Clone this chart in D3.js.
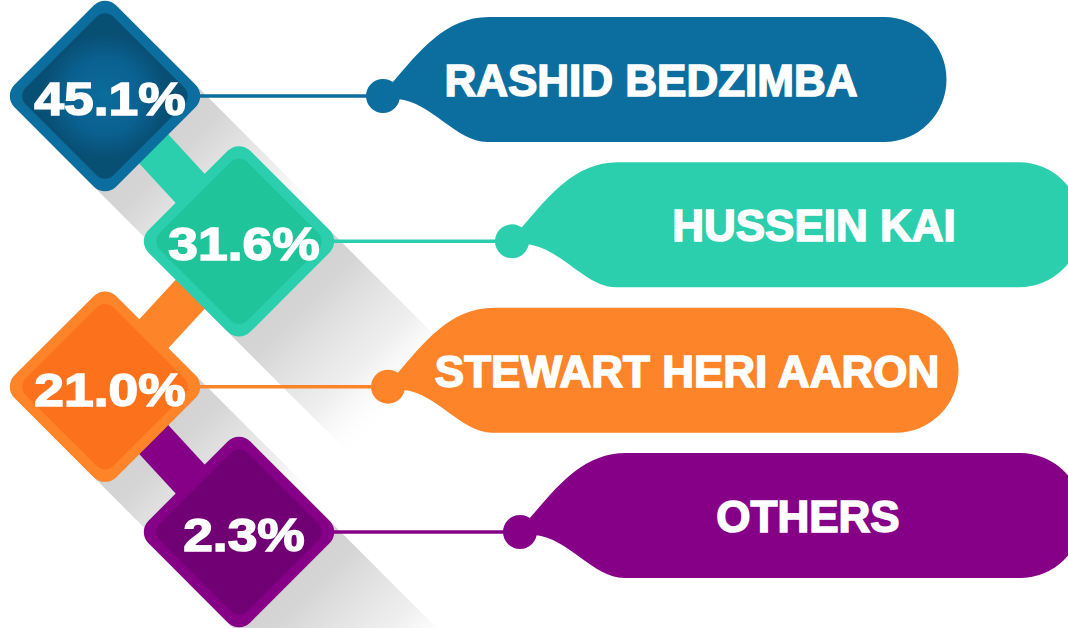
<!DOCTYPE html>
<html>
<head>
<meta charset="utf-8">
<script src="https://cdn.jsdelivr.net/npm/d3@7"></script>
<style>
body { margin: 0; background: #fff; }
svg { display: block; }
</style>
</head>
<body>
<div id="vis"></div>
<script>
// data
var names = ["RASHID BEDZIMBA", "HUSSEIN KAI", "STEWART HERI AARON", "OTHERS"];
var shares = [45.1, 31.6, 21.0, 2.3];
var outerColours = ["#0b6e9e", "#2bcfae", "#fd8428", "#850087"];
var innerColours = ["#0a5f8a", "#1fc49b", "#fc721c", "#710074"];

var width = 1068;
var height = 628;

var svg = d3.select("#vis")
    .append("svg")
    .attr("width", width)
    .attr("height", height);
var defs = svg.append("defs");

// rows down the page, diamonds zig-zag left / right
var y = d3.scalePoint().domain(names).range([96, 532]);
var diamondX = d3.scaleOrdinal().domain(names).range([105, 239]);
var knobX = d3.scaleOrdinal().domain(names).range([383, 512, 388, 520]);
var tipX = d3.scaleOrdinal().domain(names).range([884, 1019, 896, 1020]);
var labelX = d3.scaleOrdinal().domain(names).range([651, 814, 687, 808]);
var outer = d3.scaleOrdinal().domain(names).range(outerColours);
var inner = d3.scaleOrdinal().domain(names).range(innerColours);

var side = 144;                  // diamond square side
var half = side / Math.SQRT2;    // half diagonal
var reach = 95;                  // visible tip (rounded corner)
var L = 165;                     // shadow length

var rows = names.map(function(n, i) {
  return { name: n, share: shares[i], i: i, cx: diamondX(n), cy: y(n) };
});

// long shadows
rows.forEach(function(d) {
  var g = defs.append("linearGradient")
    .attr("id", "sh" + d.i)
    .attr("gradientUnits", "userSpaceOnUse")
    .attr("x1", d.cx).attr("y1", d.cy)
    .attr("x2", d.cx + L).attr("y2", d.cy + L);
  g.append("stop").attr("offset", 0).attr("stop-color", "#cdcdcd").attr("stop-opacity", 1);
  g.append("stop").attr("offset", 0.4).attr("stop-color", "#d3d3d3").attr("stop-opacity", 0.95);
  g.append("stop").attr("offset", 0.75).attr("stop-color", "#e4e4e4").attr("stop-opacity", 0.6);
  g.append("stop").attr("offset", 1).attr("stop-color", "#ffffff").attr("stop-opacity", 0);
});

svg.append("g").selectAll("polygon")
  .data(rows)
  .enter().append("polygon")
  .attr("points", function(d) {
    var a = [d.cx + half / 2, d.cy - half / 2];
    var b = [d.cx - half / 2, d.cy + half / 2];
    return [a, [a[0] + L, a[1] + L], [b[0] + L, b[1] + L], b]
      .map(function(p) { return p.join(","); }).join(" ");
  })
  .attr("fill", function(d) { return "url(#sh" + d.i + ")"; });

// connectors between diamonds, coloured like the lower one
svg.append("g").selectAll("line")
  .data(rows.slice(1))
  .enter().append("line")
  .attr("x1", function(d) { return rows[d.i - 1].cx; })
  .attr("y1", function(d) { return rows[d.i - 1].cy; })
  .attr("x2", function(d) { return d.cx; })
  .attr("y2", function(d) { return d.cy; })
  .attr("stroke", function(d) { return outer(d.name); })
  .attr("stroke-width", 41);

// leader lines
svg.append("g").selectAll("line")
  .data(rows)
  .enter().append("line")
  .attr("x1", function(d) { return d.cx + reach - 4; })
  .attr("x2", function(d) { return knobX(d.name); })
  .attr("y1", function(d) { return d.cy; })
  .attr("y2", function(d) { return d.cy; })
  .attr("stroke", function(d) { return outer(d.name); })
  .attr("stroke-width", 3.5);

// radial shading for the blue diamond
var rg = defs.append("radialGradient").attr("id", "blueIn");
rg.append("stop").attr("offset", 0).attr("stop-color", "#0b6c9c");
rg.append("stop").attr("offset", 0.6).attr("stop-color", "#0a6190");
rg.append("stop").attr("offset", 1).attr("stop-color", "#084f74");

// diamonds
var dia = svg.append("g").selectAll("g")
  .data(rows)
  .enter().append("g")
  .attr("transform", function(d) { return "translate(" + d.cx + "," + d.cy + ") rotate(45)"; });

dia.append("rect")
  .attr("x", -side / 2).attr("y", -side / 2)
  .attr("width", side).attr("height", side)
  .attr("rx", 16)
  .attr("fill", function(d) { return outer(d.name); });

dia.append("rect")
  .attr("x", -side / 2 + 10).attr("y", -side / 2 + 10)
  .attr("width", side - 20).attr("height", side - 20)
  .attr("rx", 12)
  .attr("fill", function(d) { return d.i === 0 ? "url(#blueIn)" : inner(d.name); });

// percentages
var fmt = d3.format(".1f");
svg.append("g").selectAll("text")
  .data(rows)
  .enter().append("text")
  .attr("x", function(d) { return d.cx + 5; })
  .attr("y", function(d) { return d.cy + 19; })
  .attr("text-anchor", "middle")
  .style("font-family", "'Liberation Sans', Arial, sans-serif")
  .style("font-weight", "bold")
  .style("font-size", "46px")
  .attr("fill", "#fff")
  .attr("stroke", "#fff")
  .attr("stroke-width", 1.5)
  .text(function(d) { return fmt(d.share) + "%"; })
  .each(function() {
    var len = this.getComputedTextLength();
    d3.select(this).attr("textLength", len * 1.16).attr("lengthAdjust", "spacingAndGlyphs");
  });

// name tags
function tag(d) {
  var cx = knobX(d.name), cy = d.cy, rx = tipX(d.name);
  var T = cy - 79, B = cy + 46, r = (B - T) / 2;
  var p = d3.path();
  p.moveTo(cx + 9, cy - 13);
  p.bezierCurveTo(cx + 36, cy - 44, cx + 62, T, cx + 106, T);
  p.lineTo(rx, T);
  p.arc(rx, T + r, r, -Math.PI / 2, Math.PI / 2);
  p.lineTo(cx + 104, B);
  p.bezierCurveTo(cx + 74, B, cx + 48, cy + 6, cx + 15, cy + 3);
  p.closePath();
  return p.toString();
}

var tags = svg.append("g").selectAll("g")
  .data(rows)
  .enter().append("g");

tags.append("path")
  .attr("d", tag)
  .attr("fill", function(d) { return outer(d.name); });

tags.append("circle")
  .attr("cx", function(d) { return knobX(d.name); })
  .attr("cy", function(d) { return d.cy; })
  .attr("r", 17)
  .attr("fill", function(d) { return outer(d.name); });

tags.append("text")
  .attr("x", function(d) { return labelX(d.name); })
  .attr("y", function(d) { return d.cy; })
  .attr("text-anchor", "middle")
  .style("font-family", "'Liberation Sans', Arial, sans-serif")
  .style("font-weight", "bold")
  .style("font-size", "44px")
  .attr("fill", "#fff")
  .attr("stroke", "#fff")
  .attr("stroke-width", 1.6)
  .text(function(d) { return d.name; });
</script>
</body>
</html>
